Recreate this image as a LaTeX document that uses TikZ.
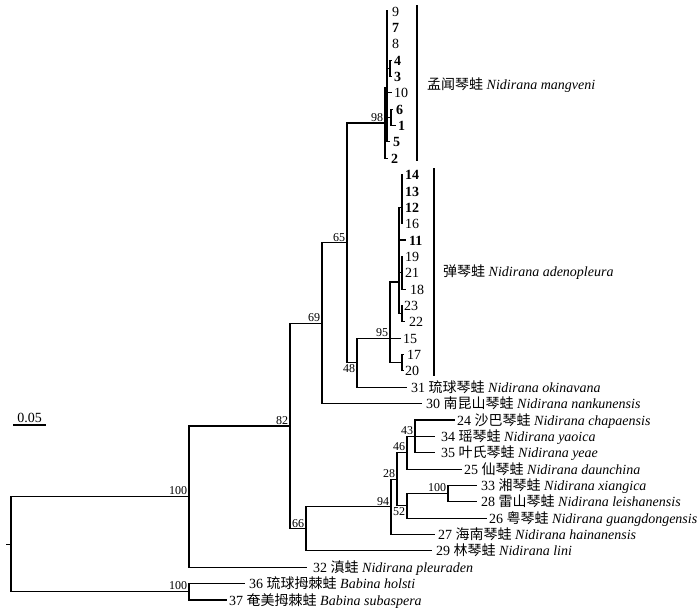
\documentclass[tikz,border=0pt]{standalone}
\usepackage{fontspec}
\setmainfont{Liberation Serif}
\newfontfamily\cjk{Noto Sans CJK SC}
\newcommand\hanzi[1]{{\cjk #1}}
\newcommand\leaf[5]{\coordinate (t#1) at (#2,#3); \node[lab] (l#1) at (#4,{#3+5}) {#5};}
\begin{document}
\begin{tikzpicture}[x=1pt,y=-1pt,
  br/.style={line width=1.1pt},
  bar/.style={line width=1.8pt},
  lab/.style={anchor=base west,inner sep=0pt,font=\fontsize{14}{16}\selectfont},
  bs/.style={inner sep=0.6pt,font=\fontsize{12}{13}\selectfont},
  clade/.style={anchor=west,inner sep=0pt,font=\fontsize{14}{16}\selectfont}]
\useasboundingbox (0,0) rectangle (700,611);
% ---- leaves ----
\leaf{9}{387.5}{11.0}{392}{9}
\leaf{7}{387.5}{27.4}{392}{\textbf{7}}
\leaf{8}{387.5}{43.7}{392}{8}
\leaf{4}{391.5}{60.1}{394}{\textbf{4}}
\leaf{3}{391.5}{76.4}{394}{\textbf{3}}
\leaf{10}{392}{92.8}{394}{10}
\leaf{6}{393}{109.2}{396}{\textbf{6}}
\leaf{1}{396}{125.5}{398}{\textbf{1}}
\leaf{5}{390}{141.9}{393}{\textbf{5}}
\leaf{2}{388}{158.2}{391}{\textbf{2}}
\leaf{14}{403}{174.6}{405}{\textbf{14}}
\leaf{13}{403}{191.0}{405}{\textbf{13}}
\leaf{12}{403}{207.3}{405}{\textbf{12}}
\leaf{16}{403}{223.7}{405}{16}
\leaf{11}{406}{240.0}{409}{\textbf{11}}
\leaf{19}{403}{256.4}{405}{19}
\leaf{21}{403}{272.8}{405}{21}
\leaf{18}{406}{289.1}{410}{18}
\leaf{23}{403}{305.5}{404}{23}
\leaf{22}{405}{321.8}{409}{22}
\leaf{15}{401}{338.2}{403}{15}
\leaf{17}{404}{354.6}{407}{17}
\leaf{20}{404}{370.9}{405}{20}
\leaf{31}{407}{387.3}{411}{31 \hanzi{琉球琴蛙} \textit{Nidirana okinavana}}
\leaf{30}{422}{403.6}{426}{30 \hanzi{南昆山琴蛙} \textit{Nidirana nankunensis}}
\leaf{24}{455}{420.0}{457}{24 \hanzi{沙巴琴蛙} \textit{Nidirana chapaensis}}
\leaf{34}{435}{436.4}{441}{34 \hanzi{瑶琴蛙} \textit{Nidirana yaoica}}
\leaf{35}{435}{452.7}{441}{35 \hanzi{叶氏琴蛙} \textit{Nidirana yeae}}
\leaf{25}{462}{469.1}{464}{25 \hanzi{仙琴蛙} \textit{Nidirana daunchina}}
\leaf{33}{477}{485.4}{481}{33 \hanzi{湘琴蛙} \textit{Nidirana xiangica}}
\leaf{28}{477}{501.8}{481}{28 \hanzi{雷山琴蛙} \textit{Nidirana leishanensis}}
\leaf{26}{487}{518.2}{489}{26 \hanzi{粤琴蛙} \textit{Nidirana guangdongensis}}
\leaf{27}{435}{534.5}{438}{27 \hanzi{海南琴蛙} \textit{Nidirana hainanensis}}
\leaf{29}{432}{550.9}{436}{29 \hanzi{林琴蛙} \textit{Nidirana lini}}
\leaf{32}{307}{567.2}{313}{32 \hanzi{滇蛙} \textit{Nidirana pleuraden}}
\leaf{36}{245}{583.6}{249}{36 \hanzi{琉球拇棘蛙} \textit{Babina holsti}}
\leaf{37}{227}{600.0}{229}{37 \hanzi{奄美拇棘蛙} \textit{Babina subaspera}}
% ---- internal nodes ----
\coordinate (Rs) at (6,544.2);
\coordinate (R) at (11,544.2);
\coordinate (NA) at (189,496.6);
\coordinate (NB) at (189,591.8);
\coordinate (N82) at (290,426);
\coordinate (N66) at (306,528.9);
\coordinate (N94) at (391,506.9);
\coordinate (N28) at (397,479.3);
\coordinate (N46) at (407,452.7);
\coordinate (N43) at (415,436.4);
\coordinate (N52) at (407,505.9);
\coordinate (N100) at (448,493.6);
\coordinate (N69) at (322,323.2);
\coordinate (N65) at (347,242.9);
\coordinate (N48) at (357,362.75);
\coordinate (N95) at (390,338.2);
\coordinate (N1720) at (402,362.75);
\coordinate (Sub) at (399,282);
\coordinate (G1) at (402,207.3);
\coordinate (G2) at (402,272.8);
\coordinate (G3) at (402,313.65);
\coordinate (N98) at (385,123);
\coordinate (M) at (387,88);
\coordinate (N43m) at (390,68.25);
\coordinate (N61) at (391,117.35);
% ---- branches ----
\draw[br] (Rs) -- (R);
\draw[br] (R) |- (NA);
\draw[br] (R) |- (NB);
\draw[br] (NB) |- (t36);
\draw[br] (NB) |- (t37);
\draw[br] (NA) |- (N82);
\draw[br] (NA) |- (t32);
\draw[br] (N82) |- (N69);
\draw[br] (N82) |- (N66);
\draw[br] (N66) |- (N94);
\draw[br] (N66) |- (t29);
\draw[br] (N94) |- (N28);
\draw[br] (N94) |- (t27);
\draw[br] (N28) |- (N46);
\draw[br] (N28) |- (N52);
\draw[br] (N46) |- (N43);
\draw[br] (N46) |- (t25);
\draw[br] (N43) |- (t24);
\draw[br] (N43) |- (t34);
\draw[br] (N43) |- (t35);
\draw[br] (N52) |- (N100);
\draw[br] (N52) |- (t26);
\draw[br] (N100) |- (t33);
\draw[br] (N100) |- (t28);
\draw[br] (N69) |- (N65);
\draw[br] (N69) |- (t30);
\draw[br] (N65) |- (N98);
\draw[br] (N65) |- (N48);
\draw[br] (N48) |- (N95);
\draw[br] (N48) |- (t31);
\draw[br] (N95) |- (Sub);
\draw[br] (N95) |- (t15);
\draw[br] (N95) |- (N1720);
\draw[br] (N1720) |- (t17);
\draw[br] (N1720) |- (t20);
\draw[br] (Sub) |- (G1);
\draw[br] (Sub) |- (t11);
\draw[br] (Sub) |- (G2);
\draw[br] (Sub) |- (G3);
\draw[br] (G1) |- (t14);
\draw[br] (G1) |- (t13);
\draw[br] (G1) |- (t12);
\draw[br] (G1) |- (t16);
\draw[br] (G2) |- (t19);
\draw[br] (G2) |- (t21);
\draw[br] (G2) |- (t18);
\draw[br] (G3) |- (t23);
\draw[br] (G3) |- (t22);
\draw[br] (N98) |- (M);
\draw[br] (N98) |- (t10);
\draw[br] (N98) |- (t2);
\draw[br] (M) |- (t9);
\draw[br] (M) |- (t7);
\draw[br] (M) |- (t8);
\draw[br] (M) |- (N43m);
\draw[br] (M) |- (N61);
\draw[br] (M) |- (t5);
\draw[br] (N43m) |- (t4);
\draw[br] (N43m) |- (t3);
\draw[br] (N61) |- (t6);
\draw[br] (N61) |- (t1);
% ---- bootstrap values ----
\node[bs,anchor=south east] (bA) at (188,495.8) {100};
\node[bs,anchor=south east] (bB) at (188,590.8) {100};
\node[bs,anchor=south east] (b82) at (289,425.2) {82};
\node[bs,anchor=south east] (b66) at (305,528.1) {66};
\node[bs,anchor=south east] (b69) at (321,322.4) {69};
\node[bs,anchor=south east] (b65) at (346,242.1) {65};
\node[bs,anchor=south east] (b98) at (384,122.2) {98};
\node[bs,anchor=north east] (b48) at (356,363.5) {48};
\node[bs,anchor=south east] (b95) at (389,337.4) {95};
\node[bs,anchor=south east] (b94) at (390,506.1) {94};
\node[bs,anchor=south east] (b28) at (396,478.5) {28};
\node[bs,anchor=south east] (b46) at (406,451.9) {46};
\node[bs,anchor=south east] (b43) at (414,435.6) {43};
\node[bs,anchor=north east] (b52) at (406,506.7) {52};
\node[bs,anchor=south east] (b100) at (447,492.8) {100};
% ---- clade bars ----
\coordinate (m1) at (417,5);
\coordinate (m2) at (417,161);
\draw[bar] (m1) -- (m2);
\node[clade] (cm) at (427,85) {\hanzi{孟闻琴蛙} \textit{Nidirana mangveni}};
\coordinate (a1) at (434,168);
\coordinate (a2) at (434,376);
\draw[bar] (a1) -- (a2);
\node[clade] (ca) at (443,272) {\hanzi{弹琴蛙} \textit{Nidirana adenopleura}};
% ---- scale bar ----
\coordinate (s1) at (13,425);
\coordinate (s2) at (46,425);
\draw[br] (s1) -- (s2);
\node[lab,anchor=south,inner sep=0pt] (sl) at (29.5,422.5) {0.05};
\end{tikzpicture}
\end{document}
